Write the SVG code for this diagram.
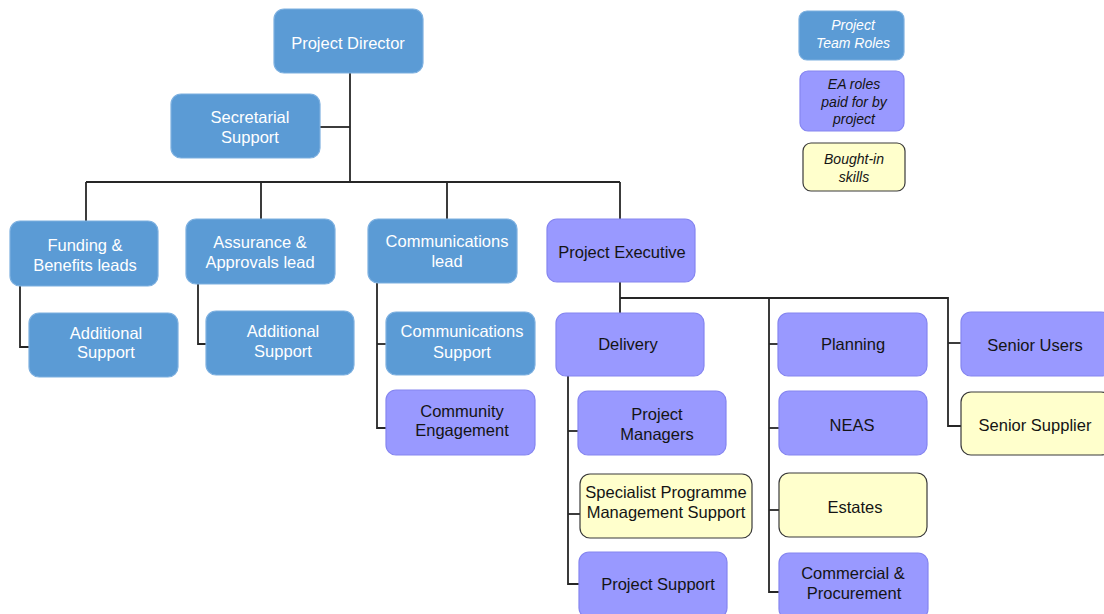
<svg xmlns="http://www.w3.org/2000/svg" width="1104" height="614" viewBox="0 0 1104 614">
  <style>
    rect.box { stroke-width: 1.2; }
    .team rect { fill: #5b9bd5; stroke: #7db0e0; }
    .ea rect { fill: #9999ff; stroke: #8585f0; }
    .bought rect { fill: #ffffcc; stroke: #3a3a3a; }
    text { font-family: "Liberation Sans", Arial, sans-serif; font-size: 16.5px; text-anchor: middle; stroke: none; }
    .team text { fill: #ffffff; }
    .ea text, .bought text { fill: #141414; }
    .legend text { font-size: 14px; font-style: italic; }
    .links path { fill: none; stroke: #262626; stroke-width: 1.8; }
  </style>
  <rect width="1104" height="614" fill="#ffffff"/>

  <!-- connector lines -->
  <g class="links">
    <path d="M350 73 V182"/>
    <path d="M320 127 H350"/>
    <path d="M86 182 H620"/>
    <path d="M86 182 V221"/>
    <path d="M261 182 V219"/>
    <path d="M447 182 V219"/>
    <path d="M620 182 V219"/>
    <path d="M20 286 V347 H29"/>
    <path d="M198 284 V344 H206"/>
    <path d="M377 283 V428 H386"/>
    <path d="M377 344 H386"/>
    <path d="M620 282 V313"/>
    <path d="M620 298 H948 V426 H961"/>
    <path d="M948 343 H961"/>
    <path d="M568 376 V584 H579"/>
    <path d="M568 431 H578"/>
    <path d="M568 514 H580"/>
    <path d="M769 298 V592 H779"/>
    <path d="M769 344 H778"/>
    <path d="M769 428 H779"/>
    <path d="M769 510 H779"/>
  </g>

  <!-- top level -->
  <g id="project-director" class="team">
    <rect class="box" x="274" y="9" width="149" height="64" rx="10"/>
    <text x="348" y="49">Project Director</text>
  </g>
  <g id="secretarial-support" class="team">
    <rect class="box" x="171" y="94" width="149" height="64" rx="10"/>
    <text x="250" y="123">Secretarial</text>
    <text x="250" y="143">Support</text>
  </g>

  <!-- second level -->
  <g id="funding-benefits" class="team">
    <rect class="box" x="10" y="221" width="148" height="65" rx="10"/>
    <text x="85" y="251">Funding &amp;</text>
    <text x="85" y="271">Benefits leads</text>
  </g>
  <g id="assurance-approvals" class="team">
    <rect class="box" x="186" y="219" width="149" height="65" rx="10"/>
    <text x="260" y="248">Assurance &amp;</text>
    <text x="260" y="268">Approvals lead</text>
  </g>
  <g id="communications-lead" class="team">
    <rect class="box" x="368" y="219" width="149" height="64" rx="10"/>
    <text x="447" y="247">Communications</text>
    <text x="447" y="267">lead</text>
  </g>
  <g id="project-executive" class="ea">
    <rect class="box" x="547" y="219" width="148" height="63" rx="10"/>
    <text x="622" y="258">Project Executive</text>
  </g>

  <!-- support roles -->
  <g id="additional-support-1" class="team">
    <rect class="box" x="29" y="313" width="149" height="64" rx="10"/>
    <text x="106" y="339">Additional</text>
    <text x="106" y="358">Support</text>
  </g>
  <g id="additional-support-2" class="team">
    <rect class="box" x="206" y="311" width="148" height="64" rx="10"/>
    <text x="283" y="337">Additional</text>
    <text x="283" y="357">Support</text>
  </g>
  <g id="communications-support" class="team">
    <rect class="box" x="386" y="312" width="149" height="63" rx="10"/>
    <text x="462" y="337">Communications</text>
    <text x="462" y="358">Support</text>
  </g>
  <g id="community-engagement" class="ea">
    <rect class="box" x="386" y="390" width="149" height="65" rx="10"/>
    <text x="462" y="417">Community</text>
    <text x="462" y="436">Engagement</text>
  </g>

  <!-- delivery branch -->
  <g id="delivery" class="ea">
    <rect class="box" x="556" y="313" width="148" height="63" rx="10"/>
    <text x="628" y="350">Delivery</text>
  </g>
  <g id="project-managers" class="ea">
    <rect class="box" x="578" y="391" width="148" height="64" rx="10"/>
    <text x="657" y="420">Project</text>
    <text x="657" y="440">Managers</text>
  </g>
  <g id="specialist-pm-support" class="bought">
    <rect class="box" x="580" y="474" width="172" height="64" rx="10"/>
    <text x="666" y="498">Specialist Programme</text>
    <text x="666" y="518">Management Support</text>
  </g>
  <g id="project-support" class="ea">
    <rect class="box" x="579" y="552" width="148" height="66" rx="10"/>
    <text x="658" y="590">Project Support</text>
  </g>

  <!-- functional branch -->
  <g id="planning" class="ea">
    <rect class="box" x="778" y="313" width="149" height="63" rx="10"/>
    <text x="853" y="350">Planning</text>
  </g>
  <g id="neas" class="ea">
    <rect class="box" x="779" y="391" width="148" height="64" rx="10"/>
    <text x="852" y="431">NEAS</text>
  </g>
  <g id="estates" class="bought">
    <rect class="box" x="779" y="473" width="148" height="64" rx="10"/>
    <text x="855" y="513">Estates</text>
  </g>
  <g id="commercial-procurement" class="ea">
    <rect class="box" x="779" y="553" width="149" height="66" rx="10"/>
    <text x="853" y="579">Commercial &amp;</text>
    <text x="854" y="599">Procurement</text>
  </g>

  <!-- users and suppliers -->
  <g id="senior-users" class="ea">
    <rect class="box" x="961" y="312" width="150" height="64" rx="10"/>
    <text x="1035" y="351">Senior Users</text>
  </g>
  <g id="senior-supplier" class="bought">
    <rect class="box" x="961" y="392" width="150" height="63" rx="10"/>
    <text x="1035" y="431">Senior Supplier</text>
  </g>

  <!-- key -->
  <g id="legend-team" class="team legend">
    <rect class="box" x="799" y="11" width="105" height="49" rx="8"/>
    <text x="853" y="30">Project</text>
    <text x="853" y="48">Team Roles</text>
  </g>
  <g id="legend-ea" class="ea legend">
    <rect class="box" x="800" y="71" width="104" height="60" rx="8"/>
    <text x="854" y="89">EA roles</text>
    <text x="854" y="107">paid for by</text>
    <text x="854" y="124">project</text>
  </g>
  <g id="legend-bought" class="bought legend">
    <rect class="box" x="803" y="143" width="102" height="48" rx="8"/>
    <text x="854" y="164">Bought-in</text>
    <text x="854" y="182">skills</text>
  </g>
</svg>
